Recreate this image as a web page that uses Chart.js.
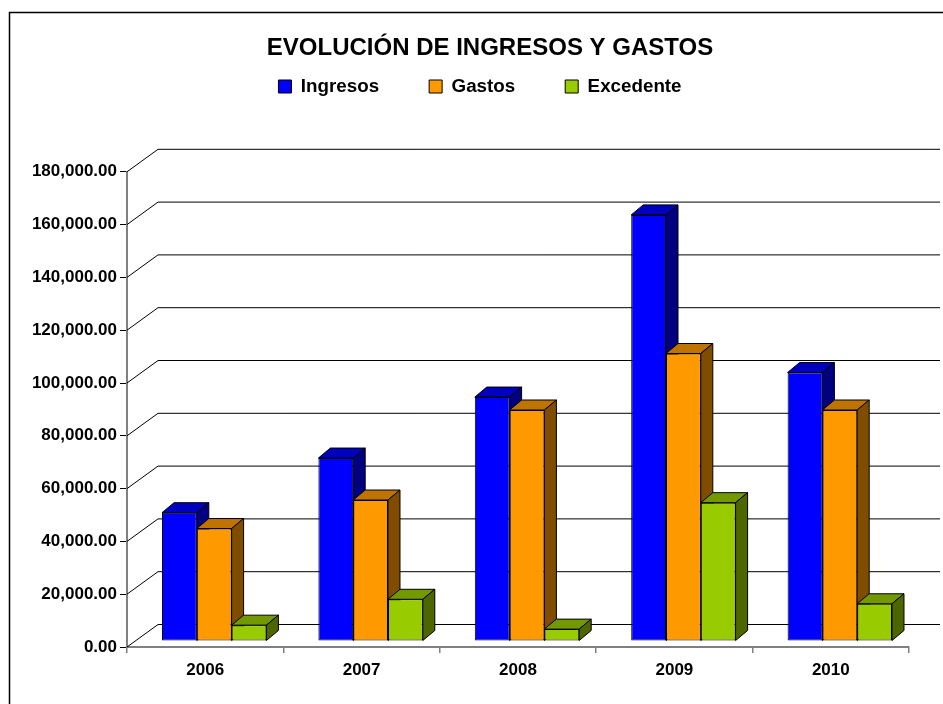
<!DOCTYPE html>
<html>
<head>
<meta charset="utf-8">
<script src="https://cdn.jsdelivr.net/npm/chart.js@4.4.1/dist/chart.umd.min.js"></script>
<style>
  html, body { margin: 0; padding: 0; background: #fff; overflow: hidden; }
  #contenedor { width: 943px; height: 704px; }
</style>
</head>
<body>
<div id="contenedor"><canvas id="grafico" width="943" height="704"></canvas></div>
<script>
// datos
var anios = ['2006', '2007', '2008', '2009', '2010'];
var ingresos = [48600, 69300, 92400, 161400, 101700];
var gastos = [42600, 53400, 87500, 108900, 87500];
var excedente = [6000, 15800, 4500, 52400, 14100];
var series = ['Ingresos', 'Gastos', 'Excedente'];
var ejeMaximo = 180000;
var ejePaso = 20000;

// colores: frente, tapa, lado
var colorFrente = ['#0000FF', '#FF9900', '#99CC00'];
var colorTapa = ['#0000BF', '#BF7300', '#739900'];
var colorLado = ['#000080', '#804D00', '#4D6600'];

var FUENTE = '"Liberation Sans", Arial, sans-serif';
var FONDO_X = 31, FONDO_Y = 22.5;   // profundidad de la pared del fondo
var BARRA_X = 9, BARRA_Y = 6;       // desplazamiento de las barras hacia el fondo
var CARA_X = 12, CARA_Y = 10;       // profundidad de cada barra

function formato(v) {
  return Number(v).toLocaleString('en-US', { minimumFractionDigits: 2, maximumFractionDigits: 2 });
}

function poligono(c, pts, relleno) {
  c.beginPath();
  c.moveTo(pts[0][0], pts[0][1]);
  for (var i = 1; i < pts.length; i++) c.lineTo(pts[i][0], pts[i][1]);
  c.closePath();
  c.fillStyle = relleno;
  c.fill();
  c.stroke();
}

function centrar(caja, centro) {
  var d = centro - (caja.left + caja.right) / 2;
  caja.left += d;
  caja.right += d;
}

var efecto3d = {
  id: 'efecto3d',
  afterLayout: function(chart) {
    // titulo y leyenda no estan centrados en el lienzo en el original
    centrar(chart.titleBlock, 490);
    centrar(chart.legend, 480);
    chart.legend.top = 27.1;
  },
  beforeDraw: function(chart) {
    var c = chart.ctx;
    c.save();
    c.strokeStyle = '#000';
    c.lineWidth = 1.5;
    c.strokeRect(9.5, 12.5, 2000, 2000);
    c.restore();
  },
  beforeDatasetsDraw: function(chart) {
    var c = chart.ctx, a = chart.chartArea, ey = chart.scales.y;
    // lineas de la pared del fondo
    c.save();
    c.strokeStyle = '#000';
    c.lineWidth = 1;
    ey.ticks.forEach(function(t) {
      var py = ey.getPixelForValue(t.value);
      c.beginPath();
      c.moveTo(a.left, py);
      c.lineTo(a.left + FONDO_X, py - FONDO_Y);
      c.lineTo(a.right + FONDO_X, py - FONDO_Y);
      c.stroke();
    });
    c.restore();

    // caras superior y lateral de las barras
    c.save();
    c.translate(BARRA_X, -BARRA_Y);
    c.strokeStyle = '#000';
    c.lineWidth = 1;
    c.lineJoin = 'round';
    chart.data.datasets.forEach(function(ds, i) {
      chart.getDatasetMeta(i).data.forEach(function(b) {
        var l = b.x - b.width / 2, r = b.x + b.width / 2, t = b.y, base = b.base;
        poligono(c, [[l, t], [l + CARA_X, t - CARA_Y], [r + CARA_X, t - CARA_Y], [r, t]], colorTapa[i]);
        poligono(c, [[r, t], [r + CARA_X, t - CARA_Y], [r + CARA_X, base - CARA_Y], [r, base]], colorLado[i]);
      });
    });
    // el frente lo dibuja Chart.js con el mismo desplazamiento
  },
  afterDatasetsDraw: function(chart) {
    chart.ctx.restore();
  }
};

var ctx = document.getElementById('grafico').getContext('2d');
var valores = [ingresos, gastos, excedente];

var chart = new Chart(ctx, {
  type: 'bar',
  data: {
    labels: anios,
    datasets: series.map(function(nombre, i) {
      return {
        label: nombre,
        data: valores[i],
        backgroundColor: colorFrente[i],
        borderColor: '#000',
        borderWidth: 1,
        borderSkipped: false,
        barPercentage: 1,
        categoryPercentage: 0.6675,
        clip: false
      };
    })
  },
  options: {
    responsive: false,
    animation: false,
    events: [],
    devicePixelRatio: 1,
    layout: { padding: { top: 0, left: 20, right: 34, bottom: 17 } },
    plugins: {
      tooltip: { enabled: false },
      title: {
        display: true,
        text: 'EVOLUCIÓN DE INGRESOS Y GASTOS',
        color: '#000',
        font: { family: FUENTE, size: 24, weight: 'bold' },
        padding: { top: 33.6, bottom: 30.6 }
      },
      legend: {
        position: 'top',
        labels: {
          boxWidth: 13,
          boxHeight: 13,
          padding: 50,
          color: '#000',
          font: { family: FUENTE, size: 18.8, weight: 'bold' }
        }
      }
    },
    scales: {
      x: {
        offset: true,
        grid: { drawOnChartArea: false, drawTicks: true, tickLength: 6, color: '#808080', lineWidth: 1.5, offset: true },
        border: { color: '#808080', width: 2 },
        ticks: { color: '#000', padding: 7, maxRotation: 0, font: { family: FUENTE, size: 17, weight: 'bold' } },
        afterFit: function(s) { s.height = 40; }
      },
      y: {
        min: 0,
        max: ejeMaximo,
        grid: { drawOnChartArea: false, drawTicks: true, tickLength: 7, color: '#000', lineWidth: 1 },
        border: { color: '#808080', width: 2 },
        ticks: {
          stepSize: ejePaso,
          padding: 3,
          color: '#000',
          font: { family: FUENTE, size: 17, weight: 'bold' },
          callback: function(v) { return formato(v); }
        },
        afterFit: function(s) { s.width = 107; }
      }
    }
  },
  plugins: [efecto3d]
});
</script>
</body>
</html>
